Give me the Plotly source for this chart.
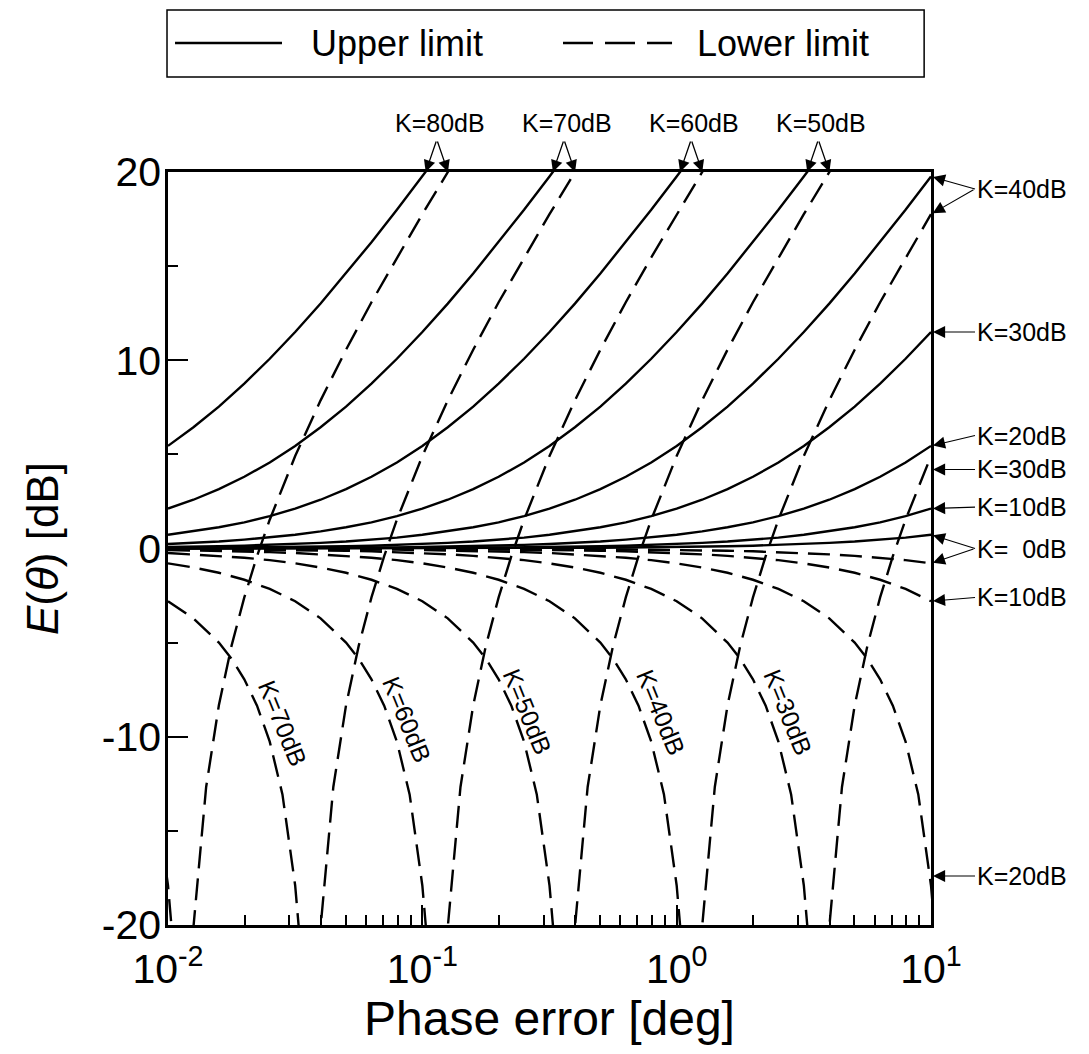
import math
import plotly.graph_objects as go

FONT = "Liberation Sans, Arial, Helvetica, sans-serif"

# ---------------- data ----------------
K_LEVELS = [0, 10, 20, 30, 40, 50, 60, 70, 80]  # dB

X_GRID = [0.01, 0.01259, 0.01585, 0.01995, 0.02512, 0.03162, 0.03981, 0.05012, 0.0631, 0.07943,
          0.1, 0.1259, 0.1585, 0.1995, 0.2512, 0.3162, 0.3981, 0.5012, 0.631, 0.7943,
          1.0, 1.259, 1.585, 1.995, 2.512, 3.162, 3.981, 5.012, 6.31, 7.943, 10.0]

UPPER_K0 = [0.0, 0.0, 0.0, 0.0, 0.0, 0.0, 0.0, 0.0, 0.0, 0.01, 0.01, 0.01, 0.01, 0.02, 0.02, 0.02,
            0.03, 0.04, 0.05, 0.06, 0.08, 0.09, 0.12, 0.15, 0.19, 0.24, 0.30, 0.37, 0.47, 0.58, 0.73]
UPPER_K10 = [0.0, 0.0, 0.0, 0.0, 0.01, 0.01, 0.01, 0.01, 0.02, 0.02, 0.02, 0.03, 0.04, 0.05, 0.06,
             0.08, 0.09, 0.12, 0.15, 0.19, 0.24, 0.30, 0.37, 0.47, 0.58, 0.73, 0.91, 1.13, 1.39, 1.72, 2.12]
UPPER_K20 = [0.01, 0.01, 0.01, 0.02, 0.02, 0.02, 0.03, 0.04, 0.05, 0.06, 0.08, 0.09, 0.12, 0.15, 0.19,
             0.24, 0.30, 0.37, 0.47, 0.58, 0.73, 0.91, 1.13, 1.39, 1.72, 2.12, 2.59, 3.15, 3.81, 4.57, 5.45]
UPPER_K30 = [0.02, 0.03, 0.04, 0.05, 0.06, 0.08, 0.09, 0.12, 0.15, 0.19, 0.24, 0.30, 0.37, 0.47, 0.58,
             0.73, 0.91, 1.13, 1.39, 1.72, 2.12, 2.59, 3.15, 3.81, 4.57, 5.45, 6.44, 7.54, 8.76, 10.08, 11.50]
UPPER_K40 = [0.08, 0.09, 0.12, 0.15, 0.19, 0.24, 0.30, 0.37, 0.47, 0.58, 0.73, 0.91, 1.13, 1.39, 1.72,
             2.12, 2.59, 3.15, 3.81, 4.57, 5.45, 6.44, 7.54, 8.76, 10.08, 11.50, 13.01, 14.61, 16.27, 17.99, 19.76]
UPPER_K50 = [0.24, 0.30, 0.37, 0.47, 0.58, 0.73, 0.91, 1.13, 1.39, 1.72, 2.12, 2.59, 3.15, 3.81, 4.57,
             5.45, 6.44, 7.54, 8.76, 10.08, 11.50, 13.01, 14.61, 16.27, 17.99, 19.76, 21.57]
UPPER_K60 = [0.73, 0.91, 1.13, 1.39, 1.72, 2.12, 2.59, 3.15, 3.81, 4.57, 5.45, 6.44, 7.54, 8.76, 10.08,
             11.50, 13.01, 14.61, 16.27, 17.99, 19.76, 21.57]
UPPER_K70 = [2.12, 2.59, 3.15, 3.81, 4.57, 5.45, 6.44, 7.54, 8.76, 10.08, 11.50, 13.01, 14.61, 16.27,
             17.99, 19.76, 21.57]
UPPER_K80 = [5.45, 6.44, 7.54, 8.76, 10.08, 11.50, 13.01, 14.61, 16.27, 17.99, 19.76, 21.57]

LOWER_K0_Y = [0.0, 0.0, 0.0, 0.0, 0.0, 0.0, 0.0, 0.0, 0.0, -0.01, -0.01, -0.01, -0.01, -0.02, -0.02, -0.02,
              -0.03, -0.04, -0.05, -0.06, -0.08, -0.10, -0.12, -0.15, -0.19, -0.24, -0.31, -0.39, -0.49, -0.62, -0.79]
LOWER_K10_Y = [0.0, 0.0, 0.0, 0.0, -0.01, -0.01, -0.01, -0.01, -0.02, -0.02, -0.02, -0.03, -0.04, -0.05, -0.06,
               -0.08, -0.10, -0.12, -0.15, -0.19, -0.24, -0.31, -0.39, -0.49, -0.62, -0.79, -1.01, -1.29, -1.66, -2.15, -2.80]

LOWER_K20_X = [0.01, 0.012589, 0.015849, 0.019953, 0.025119, 0.031623, 0.039811, 0.050119, 0.063096, 0.079433,
               0.1, 0.12589, 0.15849, 0.19953, 0.25119, 0.31623, 0.39811, 0.50119, 0.63096, 0.79433,
               1.0, 1.2589, 1.5849, 1.9953, 2.5119, 3.1623, 3.9811, 5.0119, 5.6234, 6.3096, 7.0795, 7.9433,
               8.9125, 10.0, 10.313]
LOWER_K20_Y = [-0.01, -0.01, -0.01, -0.02, -0.02, -0.02, -0.03, -0.04, -0.05, -0.06,
               -0.08, -0.10, -0.12, -0.15, -0.19, -0.24, -0.31, -0.39, -0.49, -0.62,
               -0.79, -1.01, -1.29, -1.66, -2.15, -2.80, -3.71, -5.00, -5.86, -6.95, -8.35, -10.26,
               -13.06, -17.90, -20.0]

LOWER_K30_X = [0.01, 0.012589, 0.015849, 0.019953, 0.025119, 0.031623, 0.039811, 0.050119, 0.063096, 0.079433,
               0.1, 0.12589, 0.15849, 0.19953, 0.25119, 0.31623, 0.39811, 0.50119, 0.63096, 0.79433,
               1.0, 1.2589, 1.5849, 1.7783, 1.9953, 2.2387, 2.5119, 2.8184, 3.1623, 3.2613, 3.4423, 3.8062,
               3.9811, 4.4668, 5.0119, 5.6234, 6.3096, 7.0795, 7.9433, 10.0]
LOWER_K30_Y = [-0.02, -0.03, -0.04, -0.05, -0.06, -0.08, -0.10, -0.12, -0.15, -0.19,
               -0.24, -0.31, -0.39, -0.49, -0.62, -0.79, -1.01, -1.29, -1.66, -2.15,
               -2.80, -3.71, -5.00, -5.86, -6.95, -8.35, -10.26, -13.06, -17.90, -20.0, -26.0, -26.0,
               -20.12, -12.67, -8.33, -5.16, -2.60, -0.41, 1.53, 4.91]

LOWER_K40_X = [0.01, 0.012589, 0.015849, 0.019953, 0.025119, 0.031623, 0.039811, 0.050119, 0.063096, 0.079433,
               0.1, 0.12589, 0.15849, 0.19953, 0.25119, 0.31623, 0.39811, 0.50119, 0.56234, 0.63096,
               0.70795, 0.79433, 0.89125, 1.0, 1.0313, 1.0886, 1.2032, 1.2589, 1.4125, 1.5849,
               1.7783, 1.9953, 2.2387, 2.5119, 3.1623, 3.9811, 5.0119, 6.3096, 7.9433, 10.0]
LOWER_K40_Y = [-0.08, -0.10, -0.12, -0.15, -0.19, -0.24, -0.31, -0.39, -0.49, -0.62,
               -0.79, -1.01, -1.29, -1.66, -2.15, -2.80, -3.71, -5.00, -5.86, -6.95,
               -8.35, -10.26, -13.06, -17.90, -20.0, -26.0, -26.0, -20.12, -12.67, -8.33,
               -5.16, -2.60, -0.41, 1.53, 4.91, 7.87, 10.56, 13.08, 15.46, 17.76]

LOWER_K50_X = [0.01, 0.012589, 0.015849, 0.019953, 0.025119, 0.031623, 0.039811, 0.050119, 0.063096, 0.079433,
               0.1, 0.12589, 0.15849, 0.17783, 0.19953, 0.22387, 0.25119, 0.28184, 0.31623, 0.32613,
               0.34423, 0.38062, 0.39811, 0.44668, 0.50119, 0.56234, 0.63096, 0.70795, 0.79433, 1.0,
               1.2589, 1.5849, 1.9953, 2.5119, 3.1623, 3.9811, 5.0119]
LOWER_K50_Y = [-0.24, -0.31, -0.39, -0.49, -0.62, -0.79, -1.01, -1.29, -1.66, -2.15,
               -2.80, -3.71, -5.00, -5.86, -6.95, -8.35, -10.26, -13.06, -17.90, -20.0,
               -26.0, -26.0, -20.12, -12.67, -8.33, -5.16, -2.60, -0.41, 1.53, 4.91,
               7.87, 10.56, 13.08, 15.46, 17.76, 19.99, 22.17]

LOWER_K60_X = [0.01, 0.012589, 0.015849, 0.019953, 0.025119, 0.031623, 0.039811, 0.050119, 0.056234, 0.063096,
               0.070795, 0.079433, 0.089125, 0.1, 0.10313, 0.10886, 0.12032, 0.12589, 0.14125, 0.15849,
               0.17783, 0.19953, 0.22387, 0.25119, 0.31623, 0.39811, 0.50119, 0.63096, 0.79433, 1.0,
               1.2589, 1.5849]
LOWER_K60_Y = [-0.79, -1.01, -1.29, -1.66, -2.15, -2.80, -3.71, -5.00, -5.86, -6.95,
               -8.35, -10.26, -13.06, -17.90, -20.0, -26.0, -26.0, -20.12, -12.67, -8.33,
               -5.16, -2.60, -0.41, 1.53, 4.91, 7.87, 10.56, 13.08, 15.46, 17.76,
               19.99, 22.17]

LOWER_K70_X = [0.01, 0.012589, 0.015849, 0.017783, 0.019953, 0.022387, 0.025119, 0.028184, 0.031623, 0.032613,
               0.034423, 0.038062, 0.039811, 0.044668, 0.050119, 0.056234, 0.063096, 0.070795, 0.079433, 0.1,
               0.12589, 0.15849, 0.19953, 0.25119, 0.31623, 0.39811, 0.50119]
LOWER_K70_Y = [-2.80, -3.71, -5.00, -5.86, -6.95, -8.35, -10.26, -13.06, -17.90, -20.0,
               -26.0, -26.0, -20.12, -12.67, -8.33, -5.16, -2.60, -0.41, 1.53, 4.91,
               7.87, 10.56, 13.08, 15.46, 17.76, 19.99, 22.17]

LOWER_K80_X = [0.007943, 0.008913, 0.01, 0.010313, 0.010886, 0.012032, 0.012589, 0.014125, 0.015849, 0.017783,
               0.019953, 0.022387, 0.025119, 0.031623, 0.039811, 0.050119, 0.063096, 0.079433, 0.1, 0.12589,
               0.15849]
LOWER_K80_Y = [-10.26, -13.06, -17.90, -20.0, -26.0, -26.0, -20.12, -12.67, -8.33, -5.16,
               -2.60, -0.41, 1.53, 4.91, 7.87, 10.56, 13.08, 15.46, 17.76, 19.99,
               22.17]

# labels on the right edge: text, text level (dB), arrow target levels at 10 deg (dB)
RIGHT_TEXT = ["K=40dB", "K=30dB", "K=20dB", "K=30dB", "K=10dB", "K=\u00a0\u00a00dB", "K=10dB", "K=20dB"]
RIGHT_TEXT_Y = [19.1, 11.5, 6.0, 4.2, 2.2, 0.0, -2.6, -17.4]
RIGHT_TARGETS = [[19.76, 17.76], [11.5], [5.45], [4.2], [2.12], [0.73, -0.79], [-2.8], [-17.4]]

# labels above the frame: K level and the two phase errors where its curves leave the top
TOP_TEXT = ["K=80dB", "K=70dB", "K=60dB", "K=50dB"]
TOP_CROSS_UPPER = [0.1031, 0.3261, 1.031, 3.261]
TOP_CROSS_LOWER = [0.1261, 0.3986, 1.261, 3.986]

# rotated labels inside the plot (phase error, dB)
INNER_TEXT = ["K=70dB", "K=60dB", "K=50dB", "K=40dB", "K=30dB"]
INNER_X = [0.0284, 0.0873, 0.259, 0.865, 2.735]
INNER_Y = [-9.3, -9.1, -8.7, -8.7, -8.7]

# ---------------- figure ----------------
fig = go.Figure()

upper_sets = [UPPER_K0, UPPER_K10, UPPER_K20, UPPER_K30, UPPER_K40, UPPER_K50, UPPER_K60, UPPER_K70, UPPER_K80]
for k, ys in zip(K_LEVELS, upper_sets):
    fig.add_trace(go.Scatter(x=X_GRID[:len(ys)], y=ys, mode="lines",
                             line=dict(color="black", width=2.4),
                             name=f"Upper limit K={k}dB", showlegend=False))

lower_sets = [(X_GRID, LOWER_K0_Y), (X_GRID, LOWER_K10_Y), (LOWER_K20_X, LOWER_K20_Y),
              (LOWER_K30_X, LOWER_K30_Y), (LOWER_K40_X, LOWER_K40_Y), (LOWER_K50_X, LOWER_K50_Y),
              (LOWER_K60_X, LOWER_K60_Y), (LOWER_K70_X, LOWER_K70_Y), (LOWER_K80_X, LOWER_K80_Y)]
for k, (xs, ys) in zip(K_LEVELS, lower_sets):
    fig.add_trace(go.Scatter(x=xs, y=ys, mode="lines",
                             line=dict(color="black", width=2.4, dash="22px,10px"),
                             name=f"Lower limit K={k}dB", showlegend=False))

ann = []
shapes = []
# right-edge labels with arrows (the label itself carries the first arrow)
for txt, ty, targets in zip(RIGHT_TEXT, RIGHT_TEXT_Y, RIGHT_TARGETS):
    first = targets[0]
    ann.append(dict(x=1, y=first, xref="x", yref="y", text=txt, showarrow=True,
                    ax=44, ay=ty, ayref="y", xanchor="left", yanchor="middle",
                    arrowhead=2, arrowsize=2.2, arrowwidth=1.1, arrowcolor="black", standoff=2,
                    font=dict(family=FONT, size=25, color="black")))
    for tg in targets[1:]:
        ann.append(dict(x=1, y=tg, xref="x", yref="y", text="", showarrow=True,
                        ax=44, ay=ty, ayref="y", arrowhead=2, arrowsize=2.2,
                        arrowwidth=1.1, arrowcolor="black", standoff=2))

# top labels with pairs of arrows
for txt, xu, xl in zip(TOP_TEXT, TOP_CROSS_UPPER, TOP_CROSS_LOWER):
    lu, ll = math.log10(xu), math.log10(xl)
    mid = (lu + ll) / 2
    ann.append(dict(x=mid, y=20, xref="x", yref="y", text=txt, showarrow=False,
                    xanchor="center", yanchor="middle", yshift=49, xshift=3,
                    font=dict(family=FONT, size=25, color="black")))
    for lx, dx in ((lu, 11), (ll, -11)):
        ann.append(dict(x=lx, y=20, xref="x", yref="y", text="", showarrow=True,
                        ax=dx, ay=-32, arrowhead=2, arrowsize=1.8, arrowwidth=1.3,
                        arrowcolor="black", standoff=0))

# rotated labels inside the plot
for txt, xi, yi in zip(INNER_TEXT, INNER_X, INNER_Y):
    ann.append(dict(x=math.log10(xi), y=yi, xref="x", yref="y", text=txt, showarrow=False,
                    textangle=68, font=dict(family=FONT, size=25, color="black")))

# legend box drawn above the plot
shapes.append(dict(type="rect", xref="paper", yref="paper", x0=-0.0013, x1=0.991, y0=1.1262, y1=1.2151,
                   line=dict(color="black", width=1.5), fillcolor="white"))
shapes.append(dict(type="line", xref="paper", yref="paper", x0=0.0092, x1=0.1494, y0=1.1713, y1=1.1713,
                   line=dict(color="black", width=2.4)))
shapes.append(dict(type="line", xref="paper", yref="paper", x0=0.5177, x1=0.6606, y0=1.1713, y1=1.1713,
                   line=dict(color="black", width=2.4, dash="30px,12px")))
ann.append(dict(x=0.1848, y=1.1713, xref="paper", yref="paper", text="Upper limit", showarrow=False,
                xanchor="left", yanchor="middle", font=dict(family=FONT, size=36, color="black")))
ann.append(dict(x=0.6907, y=1.1713, xref="paper", yref="paper", text="Lower limit", showarrow=False,
                xanchor="left", yanchor="middle", font=dict(family=FONT, size=36, color="black")))

fig.update_layout(
    width=1073, height=1038,
    margin=dict(l=160, r=150, t=164, b=121),
    paper_bgcolor="white", plot_bgcolor="white",
    font=dict(family=FONT, color="black"),
    showlegend=False,
    annotations=ann, shapes=shapes,
)
fig.update_xaxes(
    type="log", range=[-2, 1], showgrid=False, zeroline=False,
    showline=True, linecolor="black", linewidth=2.5, mirror=True,
    ticks="inside", ticklen=20, tickwidth=2, tickcolor="black",
    tickvals=[0.01, 0.1, 1, 10],
    ticktext=["10<sup>-2</sup>", "10<sup>-1</sup>", "10<sup>0</sup>", "10<sup>1</sup>"],
    tickfont=dict(family=FONT, size=41), ticklabelstandoff=6,
    minor=dict(tickvals=[0.02, 0.03, 0.04, 0.05, 0.06, 0.07, 0.08, 0.09,
                         0.2, 0.3, 0.4, 0.5, 0.6, 0.7, 0.8, 0.9,
                         2, 3, 4, 5, 6, 7, 8, 9],
               ticks="inside", ticklen=10, tickwidth=1.5, tickcolor="black"),
    title=dict(text="Phase error [deg]", font=dict(family=FONT, size=48), standoff=8),
)
fig.update_yaxes(
    range=[-20, 20], showgrid=False, zeroline=False,
    showline=True, linecolor="black", linewidth=2.5, mirror=True,
    ticks="inside", ticklen=20, tickwidth=2, tickcolor="black",
    tickvals=[-20, -10, 0, 10, 20], ticktext=["-20", "-10", "0", "10", "20"],
    tickfont=dict(family=FONT, size=41), ticklabelstandoff=-4,
    minor=dict(tickvals=[-15, -5, 5, 15], ticks="inside", ticklen=10, tickwidth=1.5, tickcolor="black"),
    title=dict(text="<i>E</i>(<i>θ</i>) [dB]", font=dict(family=FONT, size=44), standoff=30),
)

fig.write_html("out.html")
